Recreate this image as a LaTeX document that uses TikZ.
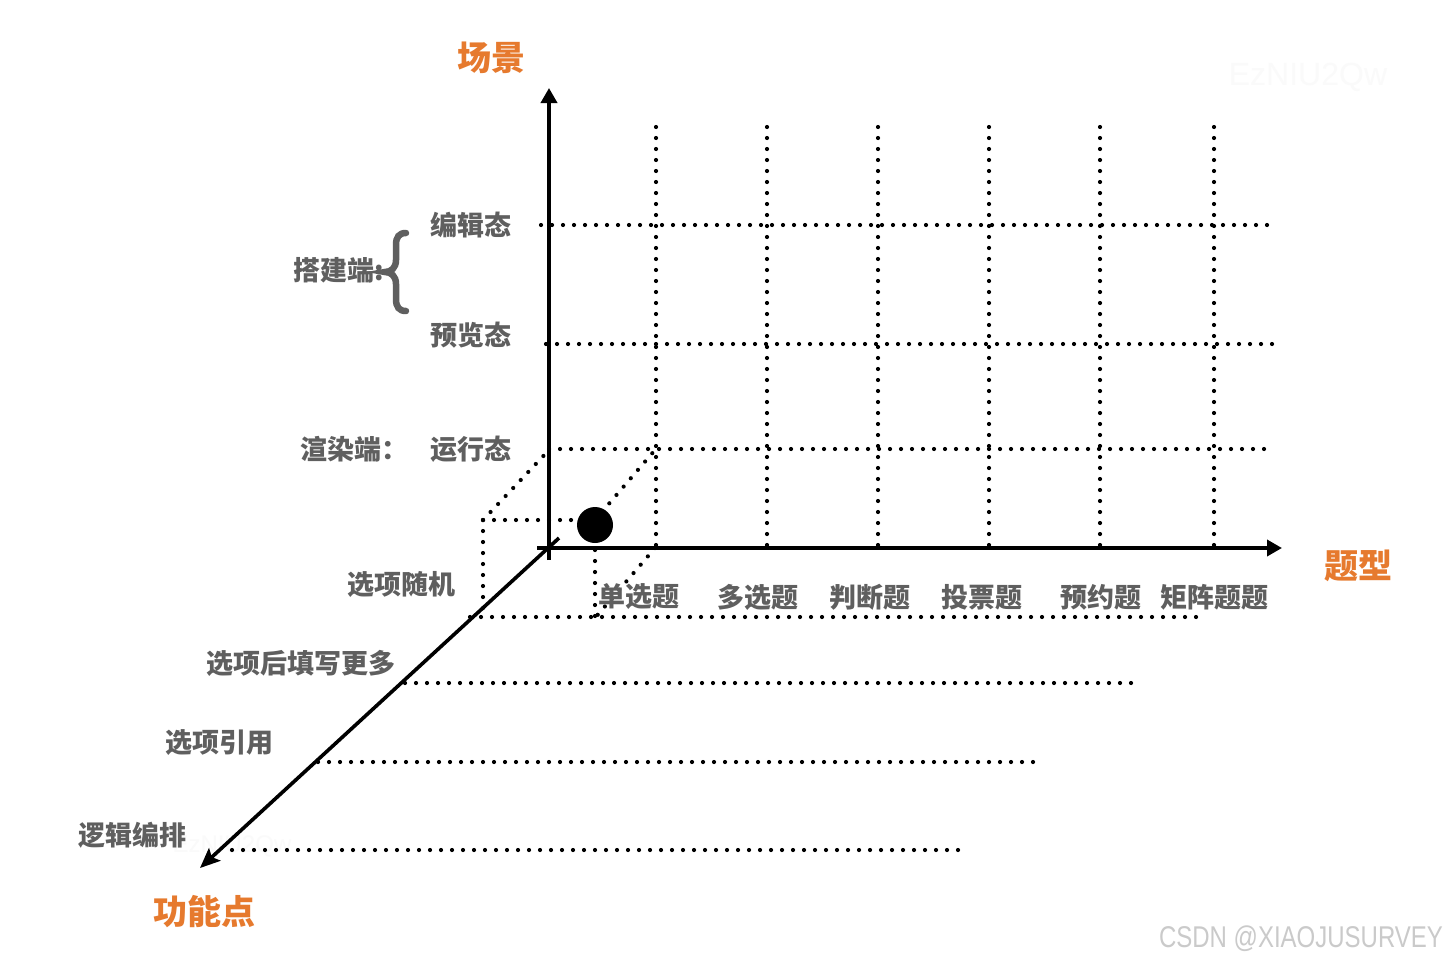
\documentclass[tikz,border=0pt]{standalone}
\usepackage{fontspec}
\newfontfamily\cjk{Noto Sans CJK SC}
\newfontfamily\wmfont{Liberation Sans}
\usetikzlibrary{arrows.meta}
\definecolor{txtgray}{HTML}{5F5F5F}
\definecolor{orng}{HTML}{E67A2E}
\definecolor{wmgray}{HTML}{CACACA}
\definecolor{wmfaint}{HTML}{FAFAFA}
\begin{document}
\begin{tikzpicture}[x=1pt,y=-1pt,
  lbl/.style={font=\cjk\bfseries\fontsize{27}{30}\selectfont, text=txtgray, inner sep=0pt},
  ttl/.style={font=\cjk\bfseries\fontsize{34}{38}\selectfont, text=orng, inner sep=0pt},
  dotl/.style={line width=4.2pt, line cap=round, dash pattern=on 0pt off 11pt, black},
  axisline/.style={line width=3.6pt, black},
]
\fill[white] (0,0) rectangle (1446,964);
\useasboundingbox (0,0) rectangle (1446,964);

% faint watermarks
\node[font=\wmfont\fontsize{32}{36}\selectfont, text=wmfaint, inner sep=0pt] (wm1) at (1308,77) {EzNIU2Qw};
\node[font=\wmfont\fontsize{24}{28}\selectfont, text=wmfaint, inner sep=0pt] (wm2) at (232,846) {EzNIU2Qw};

% coordinates
\coordinate (O) at (549,548);
\coordinate (ytop) at (549,88);
\coordinate (ybot) at (549,560);
\coordinate (xl) at (537,548);
\coordinate (xr) at (1282,548);
\coordinate (zs) at (559,538);
\coordinate (ze) at (200,868);

% grid
\foreach \x in {656,767,878,989,1100,1214}
  \draw[dotl] (\x,127) -- (\x,548);
\draw[dotl] (541,225) -- (1271,225);
\draw[dotl] (546,344) -- (1275,344);
\draw[dotl] (549,449) -- (1271,449);

% cube
\coordinate (c1) at (483,520);
\coordinate (c2) at (595,520);
\coordinate (c3) at (483,618);
\coordinate (c4) at (595,618);
\coordinate (b1) at (549,450);
\coordinate (b2) at (655,450);
\coordinate (b3) at (655,548);
\draw[dotl] (c1) -- (c2);
\draw[dotl] (c1) -- (c3);
\draw[dotl] (c1) -- (b1);
\draw[dotl] (c2) -- (b2);
\draw[dotl] (595,550) -- (c4);
\draw[dotl] (b3) -- (c4);

% feature lines
\draw[dotl] (470,617) -- (1197,617);
\draw[dotl] (405,683) -- (1137,683);
\draw[dotl] (318,762) -- (1035,762);
\draw[dotl] (232,850) -- (964,850);

% axes
\draw[axisline, -{Triangle[length=15pt,width=16pt]}] (ybot) -- (ytop);
\draw[axisline, -{Triangle[length=15pt,width=16pt]}] (xl) -- (xr);
\draw[axisline, -{Stealth[length=20pt,width=17pt,inset=4pt]}] (zs) -- (ze);

% ball
\fill[black] (595,525) circle[radius=18pt];
\node[inner sep=0pt, minimum size=0pt] (ball) at (595,525) {};

% titles
\node[ttl] (t1) at (491,58) {场景};
\node[ttl] (t2) at (1358.5,566) {题型};
\node[ttl] (t3) at (204.5,912) {功能点};

% scene labels
\node[lbl] (s1) at (471,225) {编辑态};
\node[lbl] (s2) at (470.5,335) {预览态};
\node[lbl] (s3) at (471,449) {运行态};
\node[lbl, anchor=west] (g1) at (293,270) {搭建端:};
\node[lbl, anchor=west] (g2) at (300,449) {渲染端：};
\draw[line width=6.5pt, txtgray, line cap=round]
  (406,233) .. controls (399,233) and (396,237) .. (396,245) -- (396,260)
  .. controls (396,268) and (391,272) .. (385,272)
  .. controls (391,272) and (396,276) .. (396,284) -- (396,299)
  .. controls (396,307) and (399,311) .. (406,311);

% type labels
\node[lbl] (q1) at (638.5,597) {单选题};
\node[lbl] (q2) at (758,597) {多选题};
\node[lbl] (q3) at (869.5,597) {判断题};
\node[lbl] (q4) at (981.5,597) {投票题};
\node[lbl] (q5) at (1100.5,597) {预约题};
\node[lbl] (q6) at (1214.5,597) {矩阵题题};

% feature labels
\node[lbl] (f1) at (401.5,584) {选项随机};
\node[lbl] (f2) at (301,663) {选项后填写更多};
\node[lbl] (f3) at (219,743) {选项引用};
\node[lbl] (f4) at (132.5,835) {逻辑编排};

% CSDN watermark
\node[font=\wmfont\fontsize{30}{34}\selectfont, text=wmgray, inner sep=0pt] (wm3) at (1301,939) {\scalebox{0.8}[1]{CSDN @XIAOJUSURVEY}};
\end{tikzpicture}
\end{document}
